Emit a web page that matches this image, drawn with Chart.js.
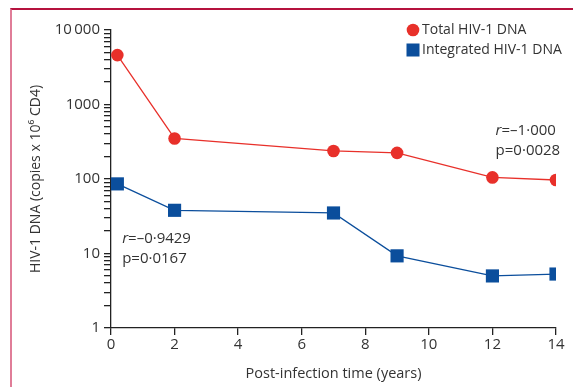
<!DOCTYPE html>
<html><head><meta charset="utf-8">
<script src="https://cdn.jsdelivr.net/npm/chart.js@4"></script>
<style>
html,body{margin:0;padding:0;background:#fff;}
#wrap{position:relative;width:573px;height:387px;}
#frame{position:absolute;left:10px;top:8px;width:563px;height:379px;border-top:2px solid #b5123e;border-left:2px solid #e07d98;box-sizing:border-box;pointer-events:none;}
canvas{position:absolute;left:0;top:0;}
</style></head>
<body>
<div id="wrap"><canvas id="c" width="573" height="387"></canvas><div id="frame"></div></div>
<script>
const years = [0.2, 2, 7, 9, 12, 14];
const totalDNA = [4600, 350, 238, 224, 105, 97];
const integratedDNA = [86, 38, 35, 9.3, 5.0, 5.3];
const xTicks = [0, 2, 4, 6, 8, 10, 12, 14];
const yMajor = [1, 10, 100, 1000, 10000];
const yLabels = {1: '1', 10: '10', 100: '100', 1000: '1000', 10000: '10\u2009000'};
const seriesNames = ['Total HIV-1 DNA', 'Integrated HIV-1 DNA'];
const annotations = [
  {x: 12.1, y: 440, lines: [['r', '=\u20131\u00b7000'], ['', 'p=0\u00b70028']]},
  {x: 0.35, y: 16, lines: [['r', '=\u20130\u00b79429'], ['', 'p=0\u00b70167']]}
];
const RED = '#e8302a', BLUE = '#0b4e9c';
const FONT = '"Open Sans", sans-serif';

const yTickValues = [];
for (let e = 0; e < 4; e++) for (let m = 1; m < 10; m++) yTickValues.push(m * Math.pow(10, e));
yTickValues.push(10000);

const extras = {
  id: 'extras',
  afterDraw(chart) {
    const ctx = chart.ctx;
    const xs = chart.scales.x, ys = chart.scales.y;
    ctx.save();
    ctx.fillStyle = '#333';
    ctx.textBaseline = 'middle';
    annotations.forEach(a => {
      const x0 = xs.getPixelForValue(a.x), y0 = ys.getPixelForValue(a.y);
      a.lines.forEach((ln, i) => {
        let x = x0;
        const y = y0 + i * 20;
        if (ln[0]) {
          ctx.font = 'italic 15px ' + FONT;
          ctx.fillText(ln[0], x, y);
          x += ctx.measureText(ln[0]).width;
        }
        ctx.font = '15px ' + FONT;
        ctx.fillText(ln[1], x, y);
      });
    });
    // legend
    const lx = 413, ly = [30, 50];
    chart.data.datasets.forEach((ds, i) => {
      ctx.fillStyle = ds.backgroundColor;
      if (ds.pointStyle === 'circle') {
        ctx.beginPath(); ctx.arc(lx, ly[i], 6.3, 0, Math.PI * 2); ctx.fill();
      } else {
        ctx.fillRect(lx - 6.5, ly[i] - 6.5, 13, 13);
      }
      ctx.fillStyle = '#333';
      ctx.font = '14px ' + FONT;
      ctx.fillText(ds.label, lx + 9, ly[i]);
    });
    ctx.restore();
  }
};

new Chart(document.getElementById('c'), {
  type: 'line',
  data: {
    datasets: [
      {label: seriesNames[0], data: years.map((x, i) => ({x, y: totalDNA[i]})), borderColor: RED, backgroundColor: RED,
       borderWidth: 1.3, pointStyle: 'circle', pointRadius: 6.3, pointBorderWidth: 0, tension: 0},
      {label: seriesNames[1], data: years.map((x, i) => ({x, y: integratedDNA[i]})), borderColor: BLUE, backgroundColor: BLUE,
       borderWidth: 1.3, pointStyle: 'rect', pointRadius: 9.3, pointBorderWidth: 0, tension: 0}
    ]
  },
  options: {
    responsive: false, animation: false,
    layout: {padding: {left: 0, right: 17, top: 30, bottom: 0}},
    plugins: {legend: {display: false}, tooltip: {enabled: false}},
    scales: {
      x: {
        type: 'linear', min: 0, max: 14,
        afterBuildTicks(s) { s.ticks = xTicks.map(v => ({value: v})); },
        afterFit(s) { s.height = 59; },
        grid: {drawOnChartArea: false, drawTicks: true, tickLength: 7, color: '#222', lineWidth: 1.3},
        border: {display: true, color: '#222', width: 1.3},
        ticks: {color: '#333', font: {family: FONT, size: 15}, padding: 1, maxRotation: 0},
        title: {display: true, text: 'Post-infection time (years)', color: '#333', font: {family: FONT, size: 14.5}, padding: {top: 2, bottom: 4}}
      },
      y: {
        type: 'logarithmic', min: 1, max: 10000,
        afterBuildTicks(s) { s.ticks = yTickValues.map(v => ({value: v, major: yMajor.includes(v)})); },
        afterFit(s) { s.width = 111; },
        grid: {drawOnChartArea: false, drawTicks: true, tickLength: 7, color: '#222', lineWidth: 1.3},
        border: {display: true, color: '#222', width: 1.3},
        ticks: {color: '#333', font: {family: FONT, size: 15}, padding: 4, autoSkip: false,
          callback: v => yLabels[v] !== undefined ? yLabels[v] : ''},
        title: {display: true, text: 'HIV-1 DNA (copies x 10\u2076 CD4)', color: '#333', font: {family: FONT, size: 14}, padding: {top: 28, bottom: 6}}
      }
    }
  },
  plugins: [extras]
});
</script>
</body></html>
